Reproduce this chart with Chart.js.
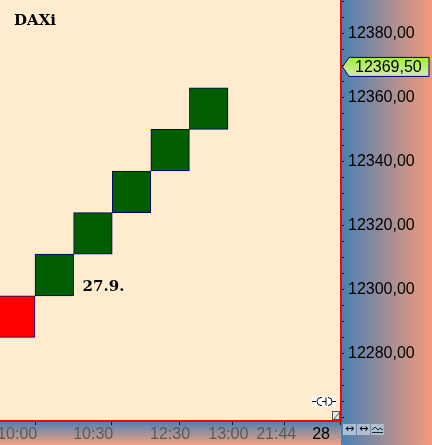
<!DOCTYPE html>
<html>
<head>
<meta charset="utf-8">
<script src="https://cdn.jsdelivr.net/npm/chart.js@4"></script>
<style>
  html, body { margin: 0; padding: 0; background: #ffebcd; overflow: hidden; }
  #wrap { width: 432px; height: 445px; }
</style>
</head>
<body>
<div id="wrap"><canvas id="renko"></canvas></div>
<script>
// renko boxes: column, low/high bound, direction
const boxIndex = [0, 1, 2, 3, 4, 5];
const boxLow   = [12285, 12298, 12311, 12324, 12337, 12350];
const boxHigh  = [12298, 12311, 12324, 12337, 12350, 12363];
const boxUp    = [false, true, true, true, true, true];

// time axis: where the time marks sit (in box columns) and their text
const timePos    = [0.02, 1.99, 3.98, 5.49, 6.73, 8.18];
const timeLabels = ["10:00", "10:30", "12:30", "13:00", "21:44", "28"];

// price axis labels (minor ticks every 5 points)
const priceLabels = [12280, 12300, 12320, 12340, 12360, 12380];

const lastPrice  = 12369.50;
const symbol     = "DAXi";
const dayMark    = "27.9.";
const dayMarkBox = 1;

const xRange = [0.093, 8.927];
const yRange = [12258.9, 12390.4];
const yStep = 5;

function fmt(v) {
  return v.toFixed(2).replace(".", ",");
}

const yTicks = [];
for (let v = Math.ceil(yRange[0] / yStep) * yStep; v <= yRange[1]; v += yStep) yTicks.push(v);

const backdrop = {
  id: "backdrop",
  beforeDraw(chart) {
    const { ctx, chartArea: a, width, height } = chart;
    ctx.save();
    ctx.fillStyle = "#ffebcd";
    ctx.fillRect(0, 0, a.right, a.bottom);

    let g = ctx.createLinearGradient(a.right, 0, width, 0);
    g.addColorStop(0, "#4a80b4");
    g.addColorStop(1, "#f49a7a");
    ctx.fillStyle = g;
    ctx.fillRect(a.right, 0, width - a.right, height);

    g = ctx.createLinearGradient(0, a.bottom, 0, height);
    g.addColorStop(0, "#4a80b2");
    g.addColorStop(1, "#f2a283");
    ctx.fillStyle = g;
    ctx.fillRect(0, a.bottom, a.right, height - a.bottom);
    ctx.restore();
  },
  afterDraw(chart) {
    const { ctx, chartArea: a, scales } = chart;
    const xs = scales.x, ys = scales.y;
    ctx.save();

    // red frame on plot edges
    ctx.strokeStyle = "#ff0000";
    ctx.lineWidth = 2;
    ctx.beginPath();
    ctx.moveTo(a.right, 0);
    ctx.lineTo(a.right, a.bottom);
    ctx.lineTo(0, a.bottom);
    ctx.stroke();

    // symbol and day marker
    ctx.fillStyle = "#000";
    ctx.font = "bold 15px 'DejaVu Serif'";
    ctx.textBaseline = "alphabetic";
    ctx.fillText(symbol, 14, 25);
    ctx.fillText(dayMark, xs.getPixelForValue(dayMarkBox + 1) + 9, ys.getPixelForValue(boxLow[dayMarkBox]) - 5);

    // last price tag
    const py = ys.getPixelForValue(lastPrice);
    const x0 = a.right + 1, x1 = chart.width - 3, h = 9.5;
    ctx.beginPath();
    ctx.moveTo(x0 + 0.5, py);
    ctx.lineTo(x0 + 7, py - h);
    ctx.lineTo(x1, py - h);
    ctx.lineTo(x1, py + h);
    ctx.lineTo(x0 + 7, py + h);
    ctx.closePath();
    const g = ctx.createLinearGradient(0, py - h, 0, py + h);
    g.addColorStop(0, "#a2f03a");
    g.addColorStop(1, "#d4e8b2");
    ctx.fillStyle = g;
    ctx.fill();
    ctx.strokeStyle = "#000080";
    ctx.lineWidth = 1;
    ctx.stroke();
    ctx.fillStyle = "#000";
    ctx.font = "16px 'Liberation Sans'";
    ctx.textBaseline = "middle";
    ctx.fillText(fmt(lastPrice), x0 + 13, py + 1);

    // small link icon in plot corner
    ctx.fillStyle = "#ffffff";
    ctx.fillRect(a.right - 29, a.bottom - 25, 24, 11);
    ctx.strokeStyle = "#000";
    ctx.lineWidth = 1;
    const iy = a.bottom - 19.5;
    ctx.beginPath();
    ctx.moveTo(a.right - 29, iy); ctx.lineTo(a.right - 25, iy);
    ctx.moveTo(a.right - 9, iy); ctx.lineTo(a.right - 5, iy);
    ctx.moveTo(a.right - 19, iy); ctx.lineTo(a.right - 15, iy);
    ctx.stroke();
    ctx.beginPath();
    ctx.arc(a.right - 20, iy, 4, Math.PI * 0.5, Math.PI * 1.5);
    ctx.moveTo(a.right - 20, iy - 4); ctx.lineTo(a.right - 19, iy - 4);
    ctx.moveTo(a.right - 20, iy + 4); ctx.lineTo(a.right - 19, iy + 4);
    ctx.moveTo(a.right - 15, iy - 4); ctx.lineTo(a.right - 15, iy + 4);
    ctx.stroke();
    ctx.beginPath();
    ctx.arc(a.right - 13, iy, 4, -Math.PI * 0.5, Math.PI * 0.5);
    ctx.stroke();

    // resize grip
    ctx.fillStyle = "#e8e8e8";
    ctx.fillRect(a.right - 9, a.bottom - 10, 8, 9);
    ctx.strokeStyle = "#555";
    ctx.strokeRect(a.right - 8.5, a.bottom - 9.5, 7, 8);
    ctx.beginPath();
    ctx.moveTo(a.right - 7, a.bottom - 2);
    ctx.lineTo(a.right - 2, a.bottom - 8);
    ctx.stroke();

    // zoom buttons under the price axis
    const bx = a.right + 2, by = a.bottom + 3;
    ctx.font = "11px 'DejaVu Sans'";
    ctx.textAlign = "center";
    ctx.textBaseline = "middle";
    for (let k = 0; k < 3; k++) {
      ctx.fillStyle = "#aebfd2";
      ctx.fillRect(bx + k * 14, by, 13, 11);
      ctx.fillStyle = "#000";
      if (k < 2) {
        ctx.fillText("\u2194", bx + k * 14 + 6.5, by + 5.5);
      } else {
        ctx.strokeStyle = "#222";
        ctx.beginPath();
        ctx.moveTo(bx + 29, by + 6); ctx.lineTo(bx + 32, by + 3); ctx.lineTo(bx + 35, by + 6);
        ctx.lineTo(bx + 37, by + 4); ctx.lineTo(bx + 40, by + 6);
        ctx.moveTo(bx + 29, by + 8.5); ctx.lineTo(bx + 40, by + 8.5);
        ctx.stroke();
      }
    }
    ctx.restore();
  }
};

const chart = new Chart(document.getElementById("renko"), {
  type: "bar",
  data: {
    datasets: [{
      data: boxIndex.map((c, k) => ({ x: c + 0.5, y: [boxLow[k], boxHigh[k]] })),
      backgroundColor: boxUp.map(u => u ? "#005e00" : "#ff0000"),
      borderColor: "#000070",
      borderWidth: 1,
      borderSkipped: false,
      barPercentage: 1,
      categoryPercentage: 1
    }]
  },
  options: {
    responsive: true,
    maintainAspectRatio: false,
    animation: false,
    events: [],
    layout: { padding: 0 },
    plugins: { legend: { display: false }, tooltip: { enabled: false } },
    scales: {
      x: {
        type: "linear",
        min: xRange[0],
        max: xRange[1],
        offset: false,
        afterBuildTicks: s => { s.ticks = timePos.map(v => ({ value: v })); },
        afterFit: s => { s.height = 24; s.paddingLeft = 0; s.paddingRight = 0; },
        grid: { drawOnChartArea: false, drawTicks: true, tickLength: 4, color: "#111" },
        border: { display: false },
        ticks: {
          autoSkip: false,
          maxRotation: 0,
          minRotation: 0,
          align: "start",
          padding: 0,
          font: { family: "Liberation Sans", size: 16 },
          color: c => c.index === timeLabels.length - 1 ? "#000" : "#5a5a5a",
          callback: (v, i) => timeLabels[i]
        }
      },
      y: {
        position: "right",
        min: yRange[0],
        max: yRange[1],
        afterBuildTicks: s => { s.ticks = yTicks.map(v => ({ value: v })); },
        afterFit: s => { s.width = 91; s.paddingTop = 0; s.paddingBottom = 0; },
        grid: { drawOnChartArea: false, drawTicks: true, tickLength: 3, color: "#111" },
        border: { display: false },
        ticks: {
          autoSkip: false,
          padding: 4,
          font: { family: "Liberation Sans", size: 16 },
          color: "#000",
          callback: v => (priceLabels.includes(Math.round(v)) ? fmt(v) : "")
        }
      }
    }
  },
  plugins: [backdrop]
});
</script>
</body>
</html>
